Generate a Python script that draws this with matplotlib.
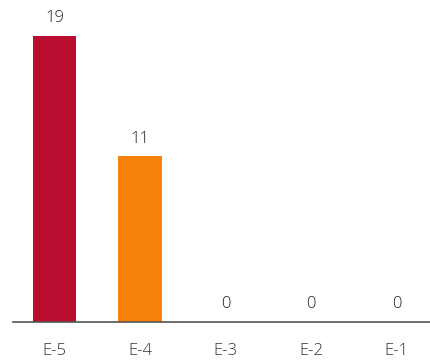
import matplotlib
matplotlib.use("Agg")
import matplotlib.pyplot as plt

categories = ["E-5", "E-4", "E-3", "E-2", "E-1"]
values = [19, 11, 0, 0, 0]
colors = ["#BA0C2F", "#F5820A", "#F5820A", "#F5820A", "#F5820A"]

plt.rcParams["font.family"] = ["Open Sans", "DejaVu Sans"]

fig = plt.figure(figsize=(4.31, 3.61), dpi=100)
ax = fig.add_axes([13 / 431, 39 / 361, 418 / 431, 322 / 361])

x = range(len(categories))
ax.bar(x, values, width=0.51, color=colors, zorder=2)

# value labels above each bar
for xi, v in zip(x, values):
    ax.annotate(str(v), (xi, v), xytext=(0, 7), textcoords="offset points",
                ha="center", va="bottom", fontsize=12, color="#222222",
                fontweight="light")

ax.set_xlim(-0.485, 4.40)
ax.set_ylim(0, 21.4)
ax.set_xticks(list(x))
ax.set_xticklabels(categories, fontsize=12, color="#333333", fontweight="light")
ax.tick_params(axis="x", length=0, pad=15)
ax.set_yticks([])
for side in ["top", "right", "left"]:
    ax.spines[side].set_visible(False)
ax.spines["bottom"].set_color("#555555")
ax.spines["bottom"].set_linewidth(1.2)

fig.savefig("out.png", dpi=100)
